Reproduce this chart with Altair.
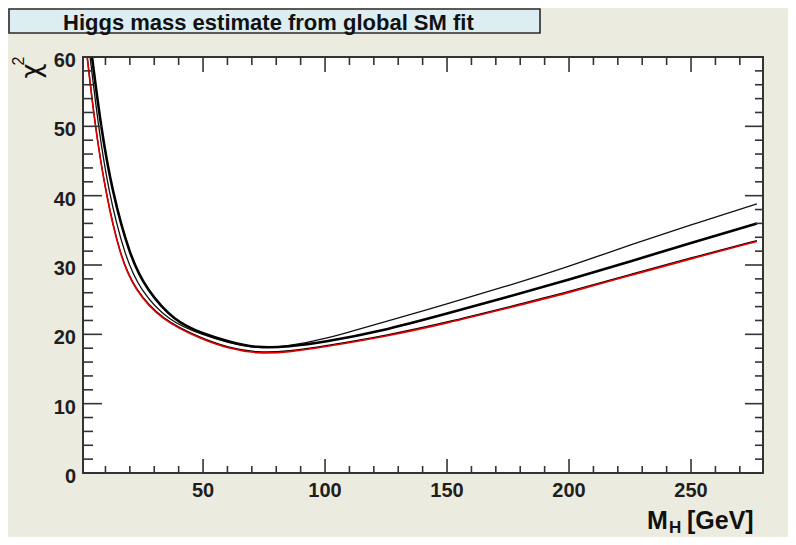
import altair as alt
import pandas as pd

# ---------------- data ----------------
title_text = "Higgs mass estimate from global SM fit"

# thin black curve
thin_mh = [3.7, 7.1, 11.1, 18.0, 24.2, 35.7, 50.0, 60.0, 72.0, 85.0, 100.0, 122.5, 150.0, 175.0, 200.0, 225.0, 250.0, 277.0]
thin_chi2 = [60.0, 50.0, 40.8, 31.2, 26.4, 21.9, 19.9, 18.8, 17.9, 18.3, 19.3, 21.6, 24.4, 27.0, 29.8, 32.9, 35.8, 38.8]

# thick black curve
thick_mh = [4.5, 8.1, 12.6, 20.0, 26.9, 38.5, 50.0, 60.0, 72.0, 85.0, 100.0, 122.5, 150.0, 175.0, 200.0, 225.0, 250.0, 277.0]
thick_chi2 = [60.0, 50.0, 40.8, 31.2, 26.4, 21.8, 20.1, 19.0, 18.0, 18.2, 18.9, 20.4, 23.0, 25.4, 27.9, 30.5, 33.2, 36.0]

# red curve
red_mh = [2.5, 5.5, 9.8, 16.0, 22.0, 33.0, 50.0, 60.0, 72.0, 85.0, 100.0, 125.0, 150.0, 175.0, 200.0, 225.0, 250.0, 277.0]
red_chi2 = [60.0, 50.7, 40.8, 31.2, 26.4, 22.0, 19.2, 18.0, 17.2, 17.4, 18.2, 19.7, 21.6, 23.8, 26.0, 28.5, 30.9, 33.4]

# axis ticks / labels
x_major = [50, 100, 150, 200, 250]
x_minor = [10, 20, 30, 40, 60, 70, 80, 90, 110, 120, 130, 140, 160, 170, 180, 190,
           210, 220, 230, 240, 260, 270]
y_major = [0, 10, 20, 30, 40, 50, 60]
y_minor = [2, 4, 6, 8, 12, 14, 16, 18, 22, 24, 26, 28, 32, 34, 36, 38,
           42, 44, 46, 48, 52, 54, 56, 58]

# ---------------- tables ----------------
rows = []
for name, xs_, ys_ in [("thin", thin_mh, thin_chi2), ("thick", thick_mh, thick_chi2), ("red", red_mh, red_chi2)]:
    for a, b in zip(xs_, ys_):
        rows.append({"series": name, "mh": a, "chi2": b})
curves = pd.DataFrame(rows)

xmaj_df = pd.DataFrame({"v": x_major})
xmin_df = pd.DataFrame({"v": x_minor})
ymaj_df = pd.DataFrame({"v": y_major})
ymin_df = pd.DataFrame({"v": y_minor})
title_df = pd.DataFrame({"t": [title_text]})

# ---------------- styling ----------------
W, H = 680, 416
FONT = "Liberation Sans"
INK = "#1e1e1e"
FRAME = "#333333"
BG = "#ECEBDF"

xs = alt.Scale(domain=[0.8, 279.5], nice=False, zero=False)
ys = alt.Scale(domain=[0, 60], nice=False, zero=False)

base = alt.Chart(curves)


def curve(name, color, width, yoff=0.0):
    return base.transform_filter(alt.datum.series == name).mark_line(
        color=color, strokeWidth=width, clip=True, interpolate="basis", yOffset=yoff
    ).encode(
        x=alt.X("mh:Q", scale=xs, axis=None),
        y=alt.Y("chi2:Q", scale=ys, axis=None),
    )


thin_line = curve("thin", "#111111", 1.3)
thick_line = curve("thick", "#000000", 2.6)
red_shadow = curve("red", "#000000", 1.3, yoff=-0.9)
red_line = curve("red", "#e00000", 1.6)


def yticks(df, length, right=False):
    x0, x1 = (W - length, W) if right else (0, length)
    return alt.Chart(df).mark_rule(color=FRAME, strokeWidth=1.6).encode(
        y=alt.Y("v:Q", scale=ys, axis=None), x=alt.value(x0), x2=alt.value(x1))


def xticks(df, length, top=False):
    y0, y1 = (0, length) if top else (H - length, H)
    return alt.Chart(df).mark_rule(color=FRAME, strokeWidth=1.6).encode(
        x=alt.X("v:Q", scale=xs, axis=None), y=alt.value(y0), y2=alt.value(y1))


tick_layers = [
    yticks(ymaj_df, 19), yticks(ymin_df, 10),
    yticks(ymaj_df, 18, right=True), yticks(ymin_df, 8, right=True),
    xticks(xmaj_df, 14), xticks(xmin_df, 7),
    xticks(xmaj_df, 15, top=True), xticks(xmin_df, 8, top=True),
]

# tick labels (through the scales)
y_labels = alt.Chart(ymaj_df).mark_text(
    font=FONT, fontSize=20, fontWeight="bold", color=INK, align="right", baseline="middle", dy=4
).encode(y=alt.Y("v:Q", scale=ys, axis=None), x=alt.value(-7), text=alt.Text("v:Q", format="d"))
x_labels = alt.Chart(xmaj_df).mark_text(
    font=FONT, fontSize=20, fontWeight="bold", color=INK, align="center", baseline="top"
).encode(x=alt.X("v:Q", scale=xs, axis=None), y=alt.value(H + 8), text=alt.Text("v:Q", format="d"))

# title box
title_box = alt.Chart(title_df).mark_rect(fill="#DCEEF2", stroke="#2a2a2a", strokeWidth=1.6).encode(
    x=alt.value(-74), x2=alt.value(457), y=alt.value(-48), y2=alt.value(-24))
title_txt = alt.Chart(title_df).mark_text(
    font=FONT, fontSize=22, fontWeight="bold", color="#111111", align="left", baseline="alphabetic"
).encode(text="t:N", x=alt.value(-20), y=alt.value(-27))

# axis titles
lab_df = pd.DataFrame({"chi": ["\u03c7"], "two": ["2"], "m": ["M"], "h": ["H"], "gev": ["[GeV]"]})
chi_txt = alt.Chart(lab_df).mark_text(font="DejaVu Sans", fontSize=26, color="#111111", angle=270,
                                      align="center", baseline="middle").encode(
    text="chi:N", x=alt.value(-51), y=alt.value(14))
two_txt = alt.Chart(lab_df).mark_text(font=FONT, fontSize=16, color="#111111", angle=270,
                                      align="center", baseline="middle").encode(
    text="two:N", x=alt.value(-64), y=alt.value(4))
m_txt = alt.Chart(lab_df).mark_text(font=FONT, fontSize=25, fontWeight="bold", color="#111111",
                                    align="left", baseline="alphabetic").encode(
    text="m:N", x=alt.value(564), y=alt.value(472))
h_txt = alt.Chart(lab_df).mark_text(font=FONT, fontSize=17, fontWeight="bold", color="#111111",
                                    align="left", baseline="alphabetic").encode(
    text="h:N", x=alt.value(586), y=alt.value(476))
gev_txt = alt.Chart(lab_df).mark_text(font=FONT, fontSize=25, fontWeight="bold", color="#111111",
                                      align="left", baseline="alphabetic").encode(
    text="gev:N", x=alt.value(604), y=alt.value(472))

chart = alt.layer(
    thin_line, thick_line, red_shadow, red_line, *tick_layers, y_labels, x_labels,
    title_box, title_txt, chi_txt, two_txt, m_txt, h_txt, gev_txt,
).properties(
    width=W, height=H, background=BG,
    padding={"left": 75, "top": 49, "right": 25, "bottom": 64},
    autosize=alt.AutoSizeParams(type="none"),
).configure_view(fill="white", stroke=FRAME, strokeWidth=2)

chart.save("out.html", embed_options={"renderer": "svg", "actions": False})
